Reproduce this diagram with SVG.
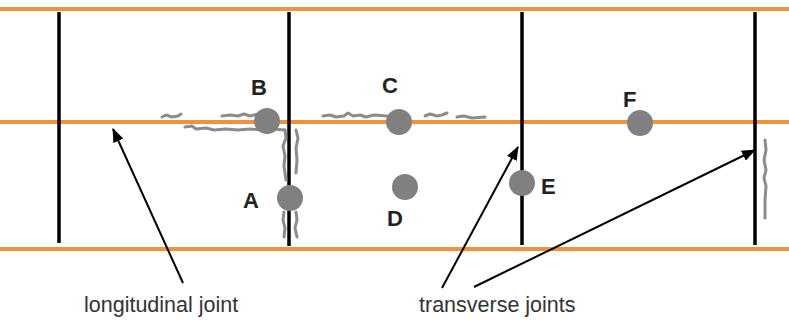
<svg xmlns="http://www.w3.org/2000/svg" width="789" height="320" viewBox="0 0 789 320">
<style>
.joint{stroke:#f0923b;stroke-width:4;fill:none}
.tj{stroke:#000;stroke-width:3.5;fill:none}
.crack{stroke:#8c8c8c;stroke-width:3;fill:none;stroke-linejoin:round;stroke-linecap:round}
.pt{fill:#808080}
.lbl{font-family:"Liberation Sans",Arial,sans-serif;font-weight:bold;font-size:22px;fill:#222}
.cap{font-family:"Liberation Sans",Arial,sans-serif;font-size:21.5px;fill:#333}
.arr{stroke:#000;stroke-width:2;fill:none}
</style>
<defs>
<marker id="ah" markerWidth="14" markerHeight="11" refX="13" refY="5.5" orient="auto" markerUnits="userSpaceOnUse" viewBox="0 0 14 11">
<path d="M0,0 L14,5.5 L0,11 Z" fill="#000"/>
</marker>
</defs>
<g id="joints">
<line class="joint" x1="0" y1="9" x2="789" y2="9"/>
<line class="joint" x1="0" y1="122" x2="789" y2="122"/>
<line class="joint" x1="0" y1="249" x2="789" y2="249"/>
<line class="tj" x1="59" y1="12" x2="59" y2="243"/>
<line class="tj" x1="289" y1="12" x2="289" y2="246"/>
<line class="tj" x1="522" y1="12" x2="522" y2="245"/>
<line class="tj" x1="755" y1="12" x2="755" y2="245"/>
</g>
<g id="cracks">
<path class="crack" d="M162,117 L166,115 L172,117 L178,116 L181,114"/>
<path class="crack" d="M222,116 L230,115 L238,116 L244,114 L250,116 L258,114"/>
<path class="crack" d="M185,127 L192,126 L196,129 L206,128 L214,130 L226,129 L238,130 L250,129 L262,130 L272,129 L285,130"/>
<path class="crack" d="M285,130 L286,138 L283,146 L285,156 L284,166 L286,180"/>
<path class="crack" d="M296,130 L298,138 L296,148 L297,160 L296,173"/>
<path class="crack" d="M284,212 L283,220 L285,228 L284,237"/>
<path class="crack" d="M296,212 L297,220 L295,228 L297,237"/>
<path class="crack" d="M323,116 L330,115 L336,117 L344,116 L348,113 L353,116 L360,115 L366,117 L374,115 L387,116"/>
<path class="crack" d="M425,116 L430,114 L437,116 L442,115 L447,113"/>
<path class="crack" d="M457,117 L464,116 L472,118 L485,117"/>
<path class="crack" d="M765,140 L766,150 L764,160 L766,170 L764,178 L766,186 L765,200 L765,218"/>
</g>
<g id="A"><circle class="pt" cx="290" cy="198" r="13"/><text class="lbl" x="243" y="208">A</text></g>
<g id="B"><circle class="pt" cx="267" cy="121" r="13"/><text class="lbl" x="251" y="95">B</text></g>
<g id="C"><circle class="pt" cx="399" cy="122" r="13"/><text class="lbl" x="382" y="93">C</text></g>
<g id="D"><circle class="pt" cx="405" cy="187" r="13"/><text class="lbl" x="387" y="226">D</text></g>
<g id="E"><circle class="pt" cx="522" cy="183" r="13"/><text class="lbl" x="541" y="194">E</text></g>
<g id="F"><circle class="pt" cx="640" cy="123" r="13"/><text class="lbl" x="623" y="107">F</text></g>
<g id="connectors">
<line class="arr" x1="183" y1="283" x2="113" y2="129" marker-end="url(#ah)"/>
<line class="arr" x1="442" y1="288" x2="518" y2="147" marker-end="url(#ah)"/>
<line class="arr" x1="474" y1="287" x2="755" y2="150" marker-end="url(#ah)"/>
</g>
<g id="captions">
<text class="cap" x="84" y="312">longitudinal joint</text>
<text class="cap" x="419" y="312">transverse joints</text>
</g>
</svg>
